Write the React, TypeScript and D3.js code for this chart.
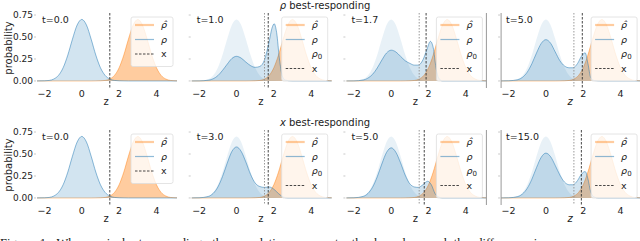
import * as d3 from "d3";

type Pt = [number, number];

const Z_TICKS = [-2, 0, 2, 4];
const P_TICKS = [0, 0.25, 0.5, 0.75];
const P_TICK_LABELS = ["0.00", "0.25", "0.50", "0.75"];
const Z_DOMAIN: [number, number] = [-2.4, 5.1];
const P_DOMAIN: [number, number] = [-0.08, 0.773];

const RHO0: Pt[] = [
  [-2.5, 0], [-2, 0.002], [-1.75, 0.006], [-1.5, 0.022], [-1.25, 0.063], [-1, 0.15],
  [-0.75, 0.294], [-0.5, 0.476], [-0.25, 0.636], [0, 0.7], [0.25, 0.636], [0.5, 0.476],
  [0.75, 0.294], [1, 0.15], [1.25, 0.063], [1.5, 0.022], [1.75, 0.006], [2, 0.002],
  [2.5, 0], [5.2, 0],
];

// target density rho-hat
const RHO_HAT: Pt[] = [
  [-2.5, 0], [0.5, 0], [1, 0.002], [1.25, 0.006], [1.5, 0.022], [1.75, 0.063], [2, 0.15],
  [2.25, 0.294], [2.5, 0.476], [2.75, 0.636], [3, 0.7], [3.25, 0.636], [3.5, 0.476],
  [3.75, 0.294], [4, 0.15], [4.25, 0.063], [4.5, 0.022], [4.75, 0.006], [5, 0.002], [5.2, 0.001],
];

// rho best-responding
const RHO_T1: Pt[] = [
  [-2.5, 0], [-2, 0.001], [-1.5, 0.009], [-1.25, 0.025], [-1, 0.06], [-0.75, 0.12],
  [-0.5, 0.19], [-0.25, 0.255], [0, 0.28], [0.25, 0.26], [0.5, 0.215], [0.75, 0.175],
  [1, 0.155], [1.25, 0.165], [1.5, 0.24], [1.75, 0.45], [1.9, 0.6], [2.02, 0.65],
  [2.15, 0.55], [2.3, 0.25], [2.45, 0.06], [2.6, 0.01], [3, 0], [5.2, 0],
];
const RHO_T17: Pt[] = [
  [-2.5, 0], [-2, 0.001], [-1.5, 0.011], [-1.25, 0.032], [-1, 0.075], [-0.75, 0.147],
  [-0.5, 0.238], [-0.25, 0.318], [0, 0.35], [0.25, 0.33], [0.5, 0.28], [0.75, 0.23],
  [1, 0.2], [1.25, 0.18], [1.45, 0.18], [1.7, 0.24], [1.9, 0.35], [2.1, 0.45],
  [2.25, 0.38], [2.4, 0.15], [2.55, 0.03], [2.75, 0], [5.2, 0],
];
const RHO_T5A: Pt[] = [
  [-2.5, 0], [-2, 0.002], [-1.5, 0.015], [-1.25, 0.042], [-1, 0.1], [-0.75, 0.197],
  [-0.5, 0.32], [-0.25, 0.427], [0, 0.47], [0.25, 0.43], [0.5, 0.33], [0.75, 0.23],
  [1, 0.17], [1.25, 0.15], [1.45, 0.15], [1.7, 0.2], [1.9, 0.28], [2.1, 0.32],
  [2.25, 0.2], [2.4, 0.04], [2.6, 0.005], [3, 0], [5.2, 0],
];

// x best-responding
const RHO_T3: Pt[] = [
  [-2.5, 0], [-2, 0.002], [-1.5, 0.018], [-1.25, 0.052], [-1, 0.124], [-0.75, 0.244],
  [-0.5, 0.395], [-0.25, 0.528], [0, 0.58], [0.25, 0.53], [0.5, 0.41], [0.75, 0.27],
  [1, 0.17], [1.25, 0.13], [1.5, 0.12], [1.75, 0.125], [2, 0.1], [2.25, 0.05],
  [2.5, 0.012], [2.75, 0], [5.2, 0],
];
const RHO_T5B: Pt[] = [
  [-2.5, 0], [-2, 0.002], [-1.5, 0.018], [-1.25, 0.051], [-1, 0.122], [-0.75, 0.24],
  [-0.5, 0.388], [-0.25, 0.518], [0, 0.57], [0.25, 0.52], [0.5, 0.4], [0.75, 0.26],
  [1, 0.16], [1.25, 0.125], [1.45, 0.12], [1.7, 0.15], [1.95, 0.19], [2.15, 0.15],
  [2.35, 0.05], [2.55, 0.01], [2.75, 0], [5.2, 0],
];
const RHO_T15: Pt[] = [
  [-2.5, 0], [-2, 0.002], [-1.5, 0.016], [-1.25, 0.046], [-1, 0.11], [-0.75, 0.214],
  [-0.5, 0.347], [-0.25, 0.463], [0, 0.51], [0.25, 0.47], [0.5, 0.37], [0.75, 0.26],
  [1, 0.18], [1.25, 0.15], [1.45, 0.15], [1.7, 0.2], [1.9, 0.27], [2.1, 0.3],
  [2.25, 0.22], [2.4, 0.07], [2.6, 0.01], [2.8, 0], [5.2, 0],
];

const ROW_TITLES = ["ρ", "x"];
const TIMES = [
  ["t=0.0", "t=1.0", "t=1.7", "t=5.0"],
  ["t=0.0", "t=3.0", "t=5.0", "t=15.0"],
];
const RHOS = [
  [RHO0, RHO_T1, RHO_T17, RHO_T5A],
  [RHO0, RHO_T3, RHO_T5B, RHO_T15],
];
const X_START = 1.5;
const X_POS = [
  [1.5, 1.7, 1.87, 1.95],
  [1.5, 1.7, 1.77, 1.9],
];

const W = 640;
const H = 241;
const PANEL_LEFT = 37;
const PANEL_STEP = 154.7;
const PANEL_W = 140;
const PANEL_H = 75;
const ROW_TOP = [13, 130];
const BLUE = "#1f77b4";
const ORANGE = "#ff7f0e";
const FONT = "DejaVu Sans";

type PanelProps = {
  id: string;
  left: number;
  top: number;
  rho: Pt[];
  x: number;
  t: string;
  first: boolean;
  col: number;
};

const Panel = ({ id, left, top, rho, x, t, first, col }: PanelProps) => {
  const xs = d3.scaleLinear().domain(Z_DOMAIN).range([left, left + PANEL_W]);
  const ys = d3.scaleLinear().domain(P_DOMAIN).range([top + PANEL_H, top]);
  const area = d3
    .area<Pt>()
    .x((d) => xs(d[0]))
    .y0(ys(0))
    .y1((d) => ys(d[1]))
    .curve(d3.curveMonotoneX);
  const line = d3
    .line<Pt>()
    .x((d) => xs(d[0]))
    .y((d) => ys(d[1]))
    .curve(d3.curveMonotoneX);
  const bottom = top + PANEL_H;
  const right = left + PANEL_W;

  // legend
  const entries = first ? ["hat", "rho", "x"] : ["hat", "rho", "rho0", "x"];
  const boxW = first ? 42 : 46;
  const boxR = right - 4;
  const boxL = boxR - boxW;
  const boxT = top + 4;
  const rowH = 14.5;
  const boxH = entries.length * rowH + 6;

  return (
    <g>
      <defs>
        <clipPath id={id}>
          <rect x={left} y={top} width={PANEL_W} height={PANEL_H} />
        </clipPath>
      </defs>
      <g clipPath={`url(#${id})`}>
        {!first && <path d={area(RHO0) ?? ""} fill={BLUE} fillOpacity={0.1} />}
        <path d={area(RHO_HAT) ?? ""} fill={ORANGE} fillOpacity={0.4} />
        <path d={line(RHO_HAT) ?? ""} fill="none" stroke={ORANGE} strokeOpacity={0.45} strokeWidth={1} />
        <path d={area(rho) ?? ""} fill={BLUE} fillOpacity={0.2} />
        <path d={line(rho) ?? ""} fill="none" stroke={BLUE} strokeOpacity={0.5} strokeWidth={1} />
        {!first && (
          <line x1={xs(X_START)} x2={xs(X_START)} y1={top} y2={bottom} stroke="#999" strokeWidth={1} strokeDasharray="1.5,1.5" />
        )}
        <line x1={xs(x)} x2={xs(x)} y1={top} y2={bottom} stroke="#333" strokeWidth={0.9} strokeDasharray="2.5,1.5" />
      </g>
      {col === 2 && <line x1={right} x2={right} y1={top} y2={bottom} stroke="#999" strokeWidth={1} />}
      {col === 3 && <line x1={left} x2={left} y1={top} y2={bottom} stroke="#999" strokeWidth={1} />}

      {/* y ticks */}
      {P_TICKS.map((p, i) => (
        <g key={p}>
          <line x1={left - 3} x2={left - 1} y1={ys(p)} y2={ys(p)} stroke="#bbb" strokeWidth={0.8} />
          {first && (
            <text x={left - 4} y={ys(p)} dy="0.35em" textAnchor="end" fontSize={9} fontFamily={FONT} fill="#222">
              {P_TICK_LABELS[i]}
            </text>
          )}
        </g>
      ))}
      {first && (
        <text
          transform={`translate(8, ${(ys(0) + ys(0.75)) / 2}) rotate(-90)`}
          dy="0.35em"
          textAnchor="middle"
          fontSize={10}
          fontFamily={FONT}
          fill="#222"
        >
          probability
        </text>
      )}
      {/* x ticks */}
      {Z_TICKS.map((z) => (
        <text key={z} x={xs(z)} y={bottom + 8.5} textAnchor="middle" fontSize={9.5} fontFamily={FONT} fill="#222">
          {z < 0 ? `−${Math.abs(z)}` : z}
        </text>
      ))}
      <text
        x={xs(1.3)}
        y={bottom + 16.5}
        textAnchor="middle"
        fontSize={10}
        fontFamily={FONT}
        fontStyle={col === 3 ? "italic" : "normal"}
        fill="#222"
      >
        z
      </text>
      <text x={left + 5} y={top + 7} dy="0.35em" fontSize={9.5} fontFamily={FONT} fill="#222">
        {t}
      </text>

      {/* legend */}
      <rect x={boxL} y={boxT} width={boxW} height={boxH} rx={2} fill="#fff" fillOpacity={0.8} stroke="#ddd" strokeWidth={0.8} />
      {entries.map((e, i) => {
        const cy = boxT + 8 + i * rowH;
        const hx1 = boxL + 4;
        const hx2 = boxL + 23;
        const tx = boxL + 30;
        return (
          <g key={e}>
            {e === "hat" && <line x1={hx1} x2={hx2} y1={cy} y2={cy} stroke={ORANGE} strokeOpacity={0.4} strokeWidth={2.2} />}
            {e === "rho" && <line x1={hx1} x2={hx2} y1={cy} y2={cy} stroke={BLUE} strokeOpacity={0.5} strokeWidth={1.2} />}
            {e === "x" && <line x1={hx1} x2={hx2} y1={cy} y2={cy} stroke="#333" strokeWidth={0.9} strokeDasharray="2.5,1.5" />}
            <text x={tx} y={cy} dy="0.35em" fontSize={9.5} fontFamily={FONT} fill="#222" fontStyle={e === "x" ? "normal" : "italic"}>
              {e === "hat" && "ρ̂"}
              {e === "rho" && "ρ"}
              {e === "rho0" && (
                <>
                  ρ<tspan fontSize={7} fontStyle="normal" dy="2">0</tspan>
                </>
              )}
              {e === "x" && "x"}
            </text>
          </g>
        );
      })}
    </g>
  );
};

export default function App() {
  return (
    <svg width={W} height={H} style={{ position: "absolute", left: 0, top: 0, background: "#fff" }}>
      <rect width={W} height={H} fill="#fff" />
      {ROW_TITLES.map((sym, r) => (
        <text key={sym} x={325} y={ROW_TOP[r] - 4} textAnchor="middle" fontSize={10} fontFamily={FONT} fill="#222">
          <tspan fontStyle="italic">{sym}</tspan> best-responding
        </text>
      ))}
      {RHOS.map((row, r) =>
        row.map((rho, c) => (
          <Panel
            key={`${r}-${c}`}
            id={`clip-${r}-${c}`}
            left={PANEL_LEFT + c * PANEL_STEP}
            top={ROW_TOP[r]}
            rho={rho}
            x={X_POS[r][c]}
            t={TIMES[r][c]}
            first={c === 0}
            col={c}
          />
        ))
      )}
      <text x={0} y={247} fontSize={12.5} fontFamily="Liberation Serif" fill="#111" wordSpacing={4}>
        Figure 1: When ρ is best-responding, the population moves to the boundary and the difference in
      </text>
    </svg>
  );
}
